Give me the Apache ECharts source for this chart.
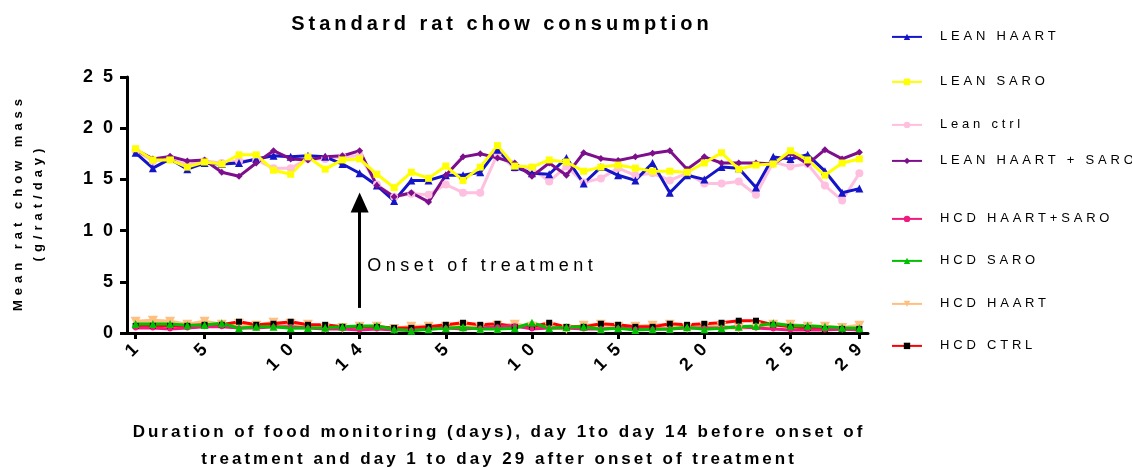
<!DOCTYPE html>
<html>
<head>
<meta charset="utf-8">
<title>Standard rat chow consumption</title>
<script src="https://cdn.jsdelivr.net/npm/echarts@6.0.0/dist/echarts.min.js"></script>
<style>
  html, body { margin: 0; padding: 0; background: #fff; }
  #chart { width: 1132px; height: 468px; }
</style>
</head>
<body>
<div id="chart"></div>
<script>
// Days of monitoring: 14 days before treatment, 29 days after.
const PRE_DAYS = [1, 2, 3, 4, 5, 6, 7, 8, 9, 10, 11, 12, 13, 14];
const POST_DAYS = [1, 2, 3, 4, 5, 6, 7, 8, 9, 10, 11, 12, 13, 14, 15, 16, 17, 18, 19, 20,
                   21, 22, 23, 24, 25, 26, 27, 28, 29];
// Days that carry a tick and a label on the x axis
const PRE_TICK_DAYS = [1, 5, 10, 14];
const POST_TICK_DAYS = [5, 10, 15, 20, 25, 29];

// Mean chow mass, g/rat/day
const LEAN_HAART = [17.6, 16.1, 17.0, 16.0, 16.6, 16.5, 16.6, 17.0, 17.3, 17.2, 17.3, 17.2, 16.5, 15.6,
  14.4, 12.9, 14.9, 14.9, 15.4, 15.4, 15.7, 17.9, 16.2, 15.6, 15.5, 17.1, 14.6, 16.2, 15.4, 14.9,
  16.6, 13.7, 15.4, 15.0, 16.2, 16.1, 14.2, 17.2, 17.0, 17.4, 15.8, 13.7, 14.1];
const LEAN_SARO = [18.0, 16.9, 16.9, 16.2, 16.7, 16.5, 17.4, 17.4, 15.9, 15.5, 17.2, 16.0, 16.9, 17.0,
  15.5, 14.2, 15.7, 15.1, 16.3, 14.9, 16.2, 18.3, 16.3, 16.2, 16.9, 16.7, 15.8, 16.2, 16.4, 16.1,
  15.8, 15.8, 15.7, 16.6, 17.6, 16.0, 16.4, 16.5, 17.8, 16.9, 15.4, 16.6, 17.0];
const LEAN_CTRL = [17.8, 16.8, 17.0, 16.4, 16.8, 16.6, 16.8, 16.9, 16.1, 16.1, 17.0, 17.0, 17.2, 17.3,
  14.5, 13.3, 13.6, 13.5, 14.5, 13.7, 13.7, 17.5, 16.1, 16.1, 14.8, 16.25, 14.7, 15.1, 16.1, 15.4,
  15.6, 14.9, 15.6, 14.6, 14.6, 14.8, 13.5, 16.7, 16.25, 16.5, 14.4, 12.95, 15.6];
const LEAN_HAART_SARO = [17.9, 17.0, 17.25, 16.8, 16.9, 15.7, 15.3, 16.6, 17.8, 17.0, 16.9, 17.2, 17.3, 17.8,
  14.4, 13.3, 13.7, 12.8, 15.4, 17.2, 17.5, 17.1, 16.6, 15.3, 16.6, 15.4, 17.6, 17.05, 16.85, 17.2,
  17.55, 17.8, 16.0, 17.2, 16.6, 16.6, 16.6, 16.5, 17.55, 16.5, 17.9, 17.0, 17.65];
const HCD_HAART_SARO = [0.5, 0.5, 0.4, 0.5, 0.6, 0.6, 0.5, 0.5, 0.6, 0.6, 0.5, 0.4, 0.4, 0.3,
  0.4, 0.3, 0.3, 0.4, 0.5, 0.4, 0.5, 0.6, 0.7, 0.4, 0.5, 0.5, 0.4, 0.4, 0.5, 0.4,
  0.4, 0.4, 0.5, 0.5, 0.5, 0.6, 0.5, 0.4, 0.3, 0.3, 0.3, 0.4, 0.3];
const HCD_SARO = [0.88, 0.88, 0.88, 0.75, 0.78, 0.95, 0.46, 0.6, 0.6, 0.46, 0.5, 0.52, 0.6, 0.68,
  0.68, 0.36, 0.23, 0.36, 0.46, 0.55, 0.38, 0.38, 0.46, 1.0, 0.46, 0.55, 0.6, 0.36, 0.46, 0.3,
  0.36, 0.4, 0.55, 0.36, 0.46, 0.6, 0.68, 0.95, 0.7, 0.7, 0.6, 0.52, 0.46];
const HCD_HAART = [1.1, 1.2, 1.1, 0.8, 1.1, 0.8, 0.9, 0.7, 1.0, 0.9, 0.8, 0.5, 0.5, 0.6,
  0.6, 0.4, 0.6, 0.6, 0.6, 0.7, 0.5, 0.7, 0.8, 0.6, 0.6, 0.4, 0.7, 0.8, 0.6, 0.6,
  0.7, 0.8, 0.5, 0.6, 0.6, 0.5, 0.6, 0.8, 0.8, 0.6, 0.6, 0.5, 0.7];
const HCD_CTRL = [0.7, 0.7, 0.7, 0.7, 0.8, 0.8, 1.1, 0.8, 0.9, 1.1, 0.8, 0.8, 0.6, 0.6,
  0.6, 0.5, 0.5, 0.6, 0.8, 1.0, 0.8, 0.9, 0.6, 0.6, 1.0, 0.6, 0.6, 0.9, 0.8, 0.6,
  0.6, 0.9, 0.8, 0.9, 1.0, 1.2, 1.2, 0.8, 0.6, 0.5, 0.4, 0.4, 0.4];

// Treatment onset marker: day 14 of the pre-treatment period
const ONSET_INDEX = 13;
const ONSET_ARROW = [2.45, 12.75];
const ONSET_TEXT_Y = 6.55;

// Legend order, top to bottom
const LEGEND_NAMES = ['LEAN HAART', 'LEAN SARO', 'Lean ctrl', 'LEAN HAART + SARO',
  'HCD HAART+SARO', 'HCD SARO', 'HCD HAART', 'HCD CTRL'];

// ---- letter spacing for canvas text, chosen per font weight and size ----
const SPACING = { b20: 4, b18: 10, b17: 3, b13: 5, n13: 3.8, n18: 4.5 };
(function () {
  const proto = CanvasRenderingContext2D.prototype;
  function spacingFor(font) {
    const m = /([\d.]+)px/.exec(font || '');
    if (!m) return 0;
    const bold = /\b(bold|[6-9]00)\b/.test(font);
    return SPACING[(bold ? 'b' : 'n') + Math.round(parseFloat(m[1]))] || 0;
  }
  const origFill = proto.fillText;
  proto.fillText = function (text, x, y, maxW) {
    const s = spacingFor(this.font);
    if ('letterSpacing' in this) {
      this.letterSpacing = s + 'px';
      if (s) {
        if (this.textAlign === 'right' || this.textAlign === 'end') x += s;
        else if (this.textAlign === 'center') x += s / 2;
      }
    }
    return maxW === undefined ? origFill.call(this, text, x, y) : origFill.call(this, text, x, y, maxW);
  };
  const origMeasure = proto.measureText;
  proto.measureText = function (text) {
    if ('letterSpacing' in this) this.letterSpacing = spacingFor(this.font) + 'px';
    return origMeasure.call(this, text);
  };
})();

const FONT = '"Liberation Sans", Arial, sans-serif';
const categories = PRE_DAYS.map(d => 'pre-' + d).concat(POST_DAYS.map(d => 'post-' + d));
const isTick = (idx, value) => {
  const [phase, day] = String(value).split('-');
  return (phase === 'pre' ? PRE_TICK_DAYS : POST_TICK_DAYS).indexOf(Number(day)) >= 0;
};
const tickInterval = idx => isTick(idx, categories[idx]);

function lineSeries(name, data, color, symbol, size, extra) {
  return Object.assign({
    name, type: 'line', data,
    symbol, symbolSize: size,
    lineStyle: { color, width: 3 },
    itemStyle: { color },
    emphasis: { disabled: true },
    z: 2
  }, extra || {});
}

const series = [
  lineSeries('Lean ctrl', LEAN_CTRL, '#ffbfdf', 'circle', 8, {
    markLine: {
      silent: true, animation: false,
      symbol: ['none', 'triangle'], symbolSize: [18, 20],
      lineStyle: { color: '#000', width: 3, type: 'solid' },
      label: { show: false },
      data: [[{ coord: [ONSET_INDEX, ONSET_ARROW[0]] }, { coord: [ONSET_INDEX, ONSET_ARROW[1]] }]]
    },
    markPoint: {
      silent: true, animation: false,
      symbol: 'circle', symbolSize: 1,
      itemStyle: { color: 'rgba(0,0,0,0)' },
      label: {
        show: true, position: 'right', distance: 7,
        formatter: 'Onset of treatment',
        color: '#000', fontSize: 18, fontFamily: FONT
      },
      data: [{ coord: [ONSET_INDEX, ONSET_TEXT_Y] }]
    }
  }),
  lineSeries('LEAN HAART', LEAN_HAART, '#1414c8', 'triangle', 8),
  lineSeries('LEAN HAART + SARO', LEAN_HAART_SARO, '#7d0f8c', 'diamond', 7),
  lineSeries('LEAN SARO', LEAN_SARO, '#ffff00', 'rect', 7),
  lineSeries('HCD HAART', HCD_HAART, '#ffbf80', 'triangle', 10, {
    symbolRotate: 180, lineStyle: { color: '#ffbf80', width: 4 }
  }),
  lineSeries('HCD CTRL', HCD_CTRL, '#ff0000', 'rect', 6, {
    itemStyle: { color: '#000' }, lineStyle: { color: '#ff0000', width: 3 }
  }),
  lineSeries('HCD HAART+SARO', HCD_HAART_SARO, '#f0197d', 'circle', 5),
  lineSeries('HCD SARO', HCD_SARO, '#00c000', 'triangle', 8)
];

const LEGEND_CENTERS = [36, 81, 124, 160, 218, 260, 303, 345];
const legends = LEGEND_NAMES.map((name, k) => ({
  data: [name],
  left: 891, top: LEGEND_CENTERS[k] - 7.5,
  itemWidth: 30, itemHeight: 8, padding: 0,
  selectedMode: false,
  textStyle: { color: '#000', fontSize: 13, fontFamily: FONT, padding: [0, 0, 0, 13] }
}));

const chart = echarts.init(document.getElementById('chart'), null, { renderer: 'canvas' });
chart.setOption({
  animation: false,
  backgroundColor: '#fff',
  textStyle: { fontFamily: FONT },
  graphic: [{
    type: 'text', silent: true,
    style: {
      text: 'Standard rat chow consumption',
      x: 500, y: 24, align: 'center', verticalAlign: 'middle',
      fill: '#000', font: 'bold 20px ' + FONT
    }
  }],
  legend: legends,
  grid: { left: 127, right: 264, top: 77, bottom: 135, outerBoundsMode: 'none' },
  xAxis: {
    type: 'category', data: categories, boundaryGap: true,
    axisLine: { show: true, lineStyle: { color: '#000', width: 3 } },
    axisTick: { show: true, alignWithLabel: true, interval: tickInterval, length: 6,
                lineStyle: { color: '#000', width: 3 } },
    axisLabel: {
      interval: tickInterval, rotate: 45, margin: 14,
      formatter: v => String(v).split('-')[1],
      color: '#000', fontSize: 18, fontWeight: 'bold', fontFamily: FONT
    },
    splitLine: { show: false },
    name: 'Duration of food monitoring (days), day 1to day 14 before onset of\ntreatment and day 1 to day 29 after onset of treatment',
    nameLocation: 'middle', nameGap: 86,
    nameTextStyle: { color: '#000', fontSize: 17, fontWeight: 'bold', lineHeight: 27, fontFamily: FONT }
  },
  yAxis: {
    type: 'value', min: 0, max: 25, interval: 5,
    axisLine: { show: true, lineStyle: { color: '#000', width: 3 } },
    axisTick: { show: true, length: 7, lineStyle: { color: '#000', width: 3 } },
    axisLabel: { color: '#000', fontSize: 18, fontWeight: 'bold', margin: 14, fontFamily: FONT },
    splitLine: { show: false },
    name: 'Mean rat chow mass\n(g/rat/day)',
    nameLocation: 'middle', nameGap: 79, nameRotate: 90,
    nameTextStyle: { color: '#000', fontSize: 13, fontWeight: 'bold', lineHeight: 20, fontFamily: FONT }
  },
  series
});
</script>
</body>
</html>
